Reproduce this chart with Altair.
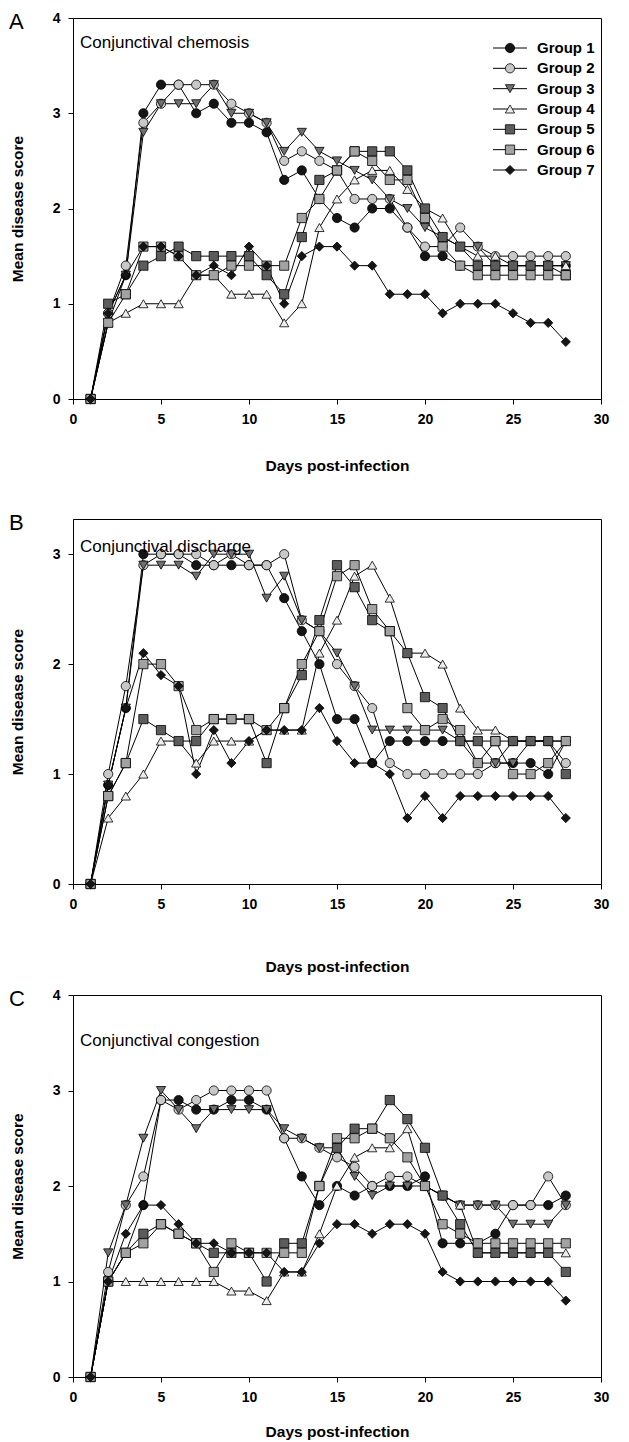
import altair as alt
import pandas as pd

days = list(range(1, 29))
groups = ["Group 1", "Group 2", "Group 3", "Group 4", "Group 5", "Group 6", "Group 7"]

# Panel A - Conjunctival chemosis
chemosis_g1 = [0, 0.9, 1.3, 3.0, 3.3, 3.3, 3.0, 3.1, 2.9, 2.9, 2.8, 2.3, 2.4, 2.1, 1.9, 1.8, 2.0, 2.0, 1.8, 1.5, 1.5, 1.4, 1.4, 1.4, 1.4, 1.4, 1.4, 1.4]
chemosis_g2 = [0, 0.9, 1.4, 2.9, 3.1, 3.3, 3.3, 3.3, 3.1, 3.0, 2.9, 2.5, 2.6, 2.5, 2.4, 2.1, 2.1, 2.1, 1.8, 1.6, 1.6, 1.8, 1.6, 1.5, 1.5, 1.5, 1.5, 1.5]
chemosis_g3 = [0, 0.8, 1.3, 2.8, 3.1, 3.1, 3.1, 3.3, 3.0, 3.0, 2.9, 2.6, 2.8, 2.6, 2.5, 2.4, 2.3, 2.1, 2.0, 1.8, 1.7, 1.6, 1.6, 1.4, 1.4, 1.4, 1.4, 1.4]
chemosis_g4 = [0, 0.8, 0.9, 1.0, 1.0, 1.0, 1.3, 1.3, 1.1, 1.1, 1.1, 0.8, 1.0, 1.8, 2.1, 2.3, 2.4, 2.4, 2.2, 2.0, 1.9, 1.6, 1.5, 1.5, 1.4, 1.4, 1.4, 1.4]
chemosis_g5 = [0, 1.0, 1.1, 1.4, 1.5, 1.6, 1.5, 1.5, 1.5, 1.5, 1.3, 1.1, 1.7, 2.3, 2.4, 2.6, 2.6, 2.6, 2.4, 2.0, 1.7, 1.6, 1.4, 1.4, 1.4, 1.4, 1.4, 1.3]
chemosis_g6 = [0, 0.8, 1.1, 1.6, 1.6, 1.5, 1.3, 1.3, 1.4, 1.4, 1.4, 1.4, 1.9, 2.1, 2.4, 2.6, 2.5, 2.3, 2.3, 1.9, 1.6, 1.4, 1.3, 1.3, 1.3, 1.3, 1.3, 1.3]
chemosis_g7 = [0, 0.9, 1.3, 1.6, 1.6, 1.5, 1.3, 1.4, 1.3, 1.6, 1.4, 1.0, 1.5, 1.6, 1.6, 1.4, 1.4, 1.1, 1.1, 1.1, 0.9, 1.0, 1.0, 1.0, 0.9, 0.8, 0.8, 0.6]

# Panel B - Conjunctival discharge
discharge_g1 = [0, 0.9, 1.6, 3.0, 3.0, 3.0, 2.9, 2.9, 2.9, 2.9, 2.9, 2.6, 2.3, 2.0, 1.5, 1.5, 1.1, 1.3, 1.3, 1.3, 1.3, 1.3, 1.1, 1.1, 1.1, 1.1, 1.0, 1.3]
discharge_g2 = [0, 1.0, 1.8, 2.9, 3.0, 3.0, 3.0, 2.9, 3.0, 2.9, 2.9, 3.0, 2.4, 2.3, 2.0, 1.8, 1.6, 1.1, 1.0, 1.0, 1.0, 1.0, 1.0, 1.1, 1.3, 1.3, 1.3, 1.1]
discharge_g3 = [0, 0.9, 1.6, 2.9, 2.9, 2.9, 2.8, 3.0, 3.0, 3.0, 2.6, 2.8, 2.4, 2.3, 2.1, 1.8, 1.4, 1.4, 1.4, 1.4, 1.4, 1.3, 1.3, 1.1, 1.1, 1.3, 1.3, 1.3]
discharge_g4 = [0, 0.6, 0.8, 1.0, 1.3, 1.3, 1.1, 1.3, 1.3, 1.3, 1.4, 1.4, 1.4, 2.1, 2.4, 2.8, 2.9, 2.6, 2.1, 2.1, 2.0, 1.6, 1.4, 1.4, 1.3, 1.3, 1.3, 1.3]
discharge_g5 = [0, 0.8, 1.1, 1.5, 1.4, 1.3, 1.3, 1.5, 1.5, 1.5, 1.1, 1.6, 1.9, 2.4, 2.9, 2.7, 2.4, 2.3, 2.1, 1.7, 1.6, 1.3, 1.3, 1.3, 1.3, 1.3, 1.3, 1.0]
discharge_g6 = [0, 0.8, 1.1, 2.0, 2.0, 1.8, 1.4, 1.5, 1.5, 1.5, 1.4, 1.6, 2.0, 2.3, 2.8, 2.9, 2.5, 2.3, 1.6, 1.4, 1.5, 1.4, 1.1, 1.3, 1.0, 1.0, 1.1, 1.3]
discharge_g7 = [0, 0.9, 1.6, 2.1, 1.9, 1.8, 1.0, 1.4, 1.1, 1.3, 1.4, 1.4, 1.4, 1.6, 1.3, 1.1, 1.1, 1.0, 0.6, 0.8, 0.6, 0.8, 0.8, 0.8, 0.8, 0.8, 0.8, 0.6]

# Panel C - Conjunctival congestion
congestion_g1 = [0, 1.0, 1.3, 1.8, 2.9, 2.9, 2.8, 2.8, 2.9, 2.9, 2.8, 2.5, 2.1, 1.8, 2.0, 1.9, 2.0, 2.0, 2.0, 2.1, 1.4, 1.4, 1.4, 1.5, 1.8, 1.8, 1.8, 1.9]
congestion_g2 = [0, 1.1, 1.8, 2.1, 2.9, 2.8, 2.9, 3.0, 3.0, 3.0, 3.0, 2.5, 2.5, 2.4, 2.3, 2.2, 2.0, 2.1, 2.1, 2.0, 1.9, 1.8, 1.8, 1.8, 1.8, 1.8, 2.1, 1.8]
congestion_g3 = [0, 1.3, 1.8, 2.5, 3.0, 2.8, 2.6, 2.8, 2.8, 2.8, 2.8, 2.6, 2.5, 2.4, 2.4, 2.1, 1.9, 2.0, 2.0, 2.0, 1.9, 1.8, 1.8, 1.8, 1.6, 1.6, 1.6, 1.8]
congestion_g4 = [0, 1.0, 1.0, 1.0, 1.0, 1.0, 1.0, 1.0, 0.9, 0.9, 0.8, 1.1, 1.1, 1.5, 2.0, 2.3, 2.4, 2.4, 2.6, 2.0, 1.9, 1.8, 1.3, 1.3, 1.3, 1.3, 1.3, 1.3]
congestion_g5 = [0, 1.0, 1.3, 1.5, 1.6, 1.5, 1.4, 1.3, 1.3, 1.3, 1.0, 1.4, 1.4, 2.0, 2.4, 2.6, 2.6, 2.9, 2.7, 2.4, 1.9, 1.6, 1.3, 1.3, 1.3, 1.3, 1.3, 1.1]
congestion_g6 = [0, 1.0, 1.3, 1.4, 1.6, 1.5, 1.4, 1.1, 1.4, 1.3, 1.3, 1.3, 1.3, 2.0, 2.5, 2.5, 2.6, 2.5, 2.3, 2.0, 1.6, 1.5, 1.4, 1.4, 1.4, 1.4, 1.4, 1.4]
congestion_g7 = [0, 1.0, 1.5, 1.8, 1.8, 1.6, 1.4, 1.4, 1.3, 1.3, 1.3, 1.1, 1.1, 1.4, 1.6, 1.6, 1.5, 1.6, 1.6, 1.5, 1.1, 1.0, 1.0, 1.0, 1.0, 1.0, 1.0, 0.8]

x_ticks = [0, 5, 10, 15, 20, 25, 30]
legend_rows = [0, 1, 2, 3, 4, 5, 6]

FONT = "Liberation Sans"
fills = ["#151515", "#c8c8c8", "#707070", "#ececec", "#5c5c5c", "#a2a2a2", "#151515"]
shapes = ["circle", "circle", "triangle-down", "triangle-up", "square", "square", "diamond"]
sizes = [85, 85, 110, 110, 85, 85, 140]


def make_df(series):
    rows = []
    for g, vals in zip(groups, series):
        for d, v in zip(days, vals):
            rows.append({"Day": d, "Score": v, "Group": g})
    return pd.DataFrame(rows)


df_a = make_df([chemosis_g1, chemosis_g2, chemosis_g3, chemosis_g4, chemosis_g5, chemosis_g6, chemosis_g7])
df_b = make_df([discharge_g1, discharge_g2, discharge_g3, discharge_g4, discharge_g5, discharge_g6, discharge_g7])
df_c = make_df([congestion_g1, congestion_g2, congestion_g3, congestion_g4, congestion_g5, congestion_g6, congestion_g7])
df_leg = pd.DataFrame({"Group": groups, "row": legend_rows})

W = 528

shape_enc = alt.Shape("Group:N", scale=alt.Scale(domain=groups, range=shapes), legend=None)
fill_enc = alt.Fill("Group:N", scale=alt.Scale(domain=groups, range=fills), legend=None)
size_enc = alt.Size("Group:O", scale=alt.Scale(domain=groups, range=sizes), legend=None)


def panel(df, letter, title, ydom, yticks, h, title_y, xtitle_pad, with_legend=False):
    base = alt.Chart(df)
    x = alt.X("Day:Q", scale=alt.Scale(domain=[0, 30], nice=False),
              axis=alt.Axis(values=x_ticks, title="Days post-infection", titlePadding=xtitle_pad))
    y = alt.Y("Score:Q", scale=alt.Scale(domain=ydom, nice=False),
              axis=alt.Axis(values=yticks, title="Mean disease score"))
    lines = base.mark_line(color="black", strokeWidth=1).encode(
        x=x, y=y, detail="Group:N", order="Day:Q")
    points = base.mark_point(filled=True, stroke="black", strokeWidth=0.8, opacity=1).encode(
        x=x, y=y, shape=shape_enc, fill=fill_enc, size=size_enc)
    lab_df = pd.DataFrame({"t": [letter]})
    ttl_df = pd.DataFrame({"t": [title]})
    letter_txt = alt.Chart(lab_df).mark_text(align="left", baseline="middle", fontSize=22,
                                             font=FONT, color="black").encode(
        text="t:N", x=alt.value(-64), y=alt.value(4))
    title_txt = alt.Chart(ttl_df).mark_text(align="left", baseline="middle", fontSize=17,
                                            font=FONT, color="black").encode(
        text="t:N", x=alt.value(7), y=alt.value(title_y))
    main = alt.layer(lines, points, letter_txt, title_txt)
    if with_legend:
        lb = alt.Chart(df_leg)
        ly = alt.Y("row:Q", scale=alt.Scale(domain=[0, 6], range=[30, 152]), axis=None)
        leg_rule = lb.mark_rule(color="black", strokeWidth=1).encode(
            x=alt.value(420), x2=alt.value(454), y=ly)
        leg_pts = lb.mark_point(filled=True, stroke="black", strokeWidth=0.8, opacity=1).encode(
            x=alt.value(437), y=ly, shape=shape_enc, fill=fill_enc, size=size_enc)
        leg_txt = lb.mark_text(align="left", baseline="middle", fontSize=15, fontWeight="bold",
                               font=FONT, color="black").encode(
            x=alt.value(464), y=ly, text="Group:N")
        legend = alt.layer(leg_rule, leg_pts, leg_txt)
        ch = alt.layer(main, legend).resolve_scale(y="independent")
    else:
        ch = main
    return ch.properties(width=W, height=h)


pa = panel(df_a, "A", "Conjunctival chemosis", [0, 4], [0, 1, 2, 3, 4], 381, 25, 32, with_legend=True)
pb = panel(df_b, "B", "Conjunctival discharge", [0, 3.32], [0, 1, 2, 3], 365, 28, 48)
pc = panel(df_c, "C", "Conjunctival congestion", [0, 4], [0, 1, 2, 3, 4], 382, 46, 20)

res = dict(x="independent", y="independent")
bc = alt.vconcat(pb, pc, spacing=12).resolve_scale(**res)
chart = alt.vconcat(pa, bc, spacing=37).resolve_scale(**res).properties(
    padding={"left": 0, "top": 2, "right": 0, "bottom": 0},
    background="white",
).configure_view(stroke="black", strokeWidth=1).configure_axis(
    grid=False, domainColor="black", domainWidth=1, tickColor="black", tickSize=5,
    tickWidth=1, labelColor="black", titleColor="black", labelFont=FONT, titleFont=FONT,
    labelFontSize=14, labelFontWeight="bold", titleFontSize=15.5, titleFontWeight="bold",
    labelFlush=False,
).configure_axisX(labelPadding=8).configure_axisY(
    labelPadding=8, titlePadding=27)

chart.save("out.html", embed_options={"renderer": "svg", "actions": False})
